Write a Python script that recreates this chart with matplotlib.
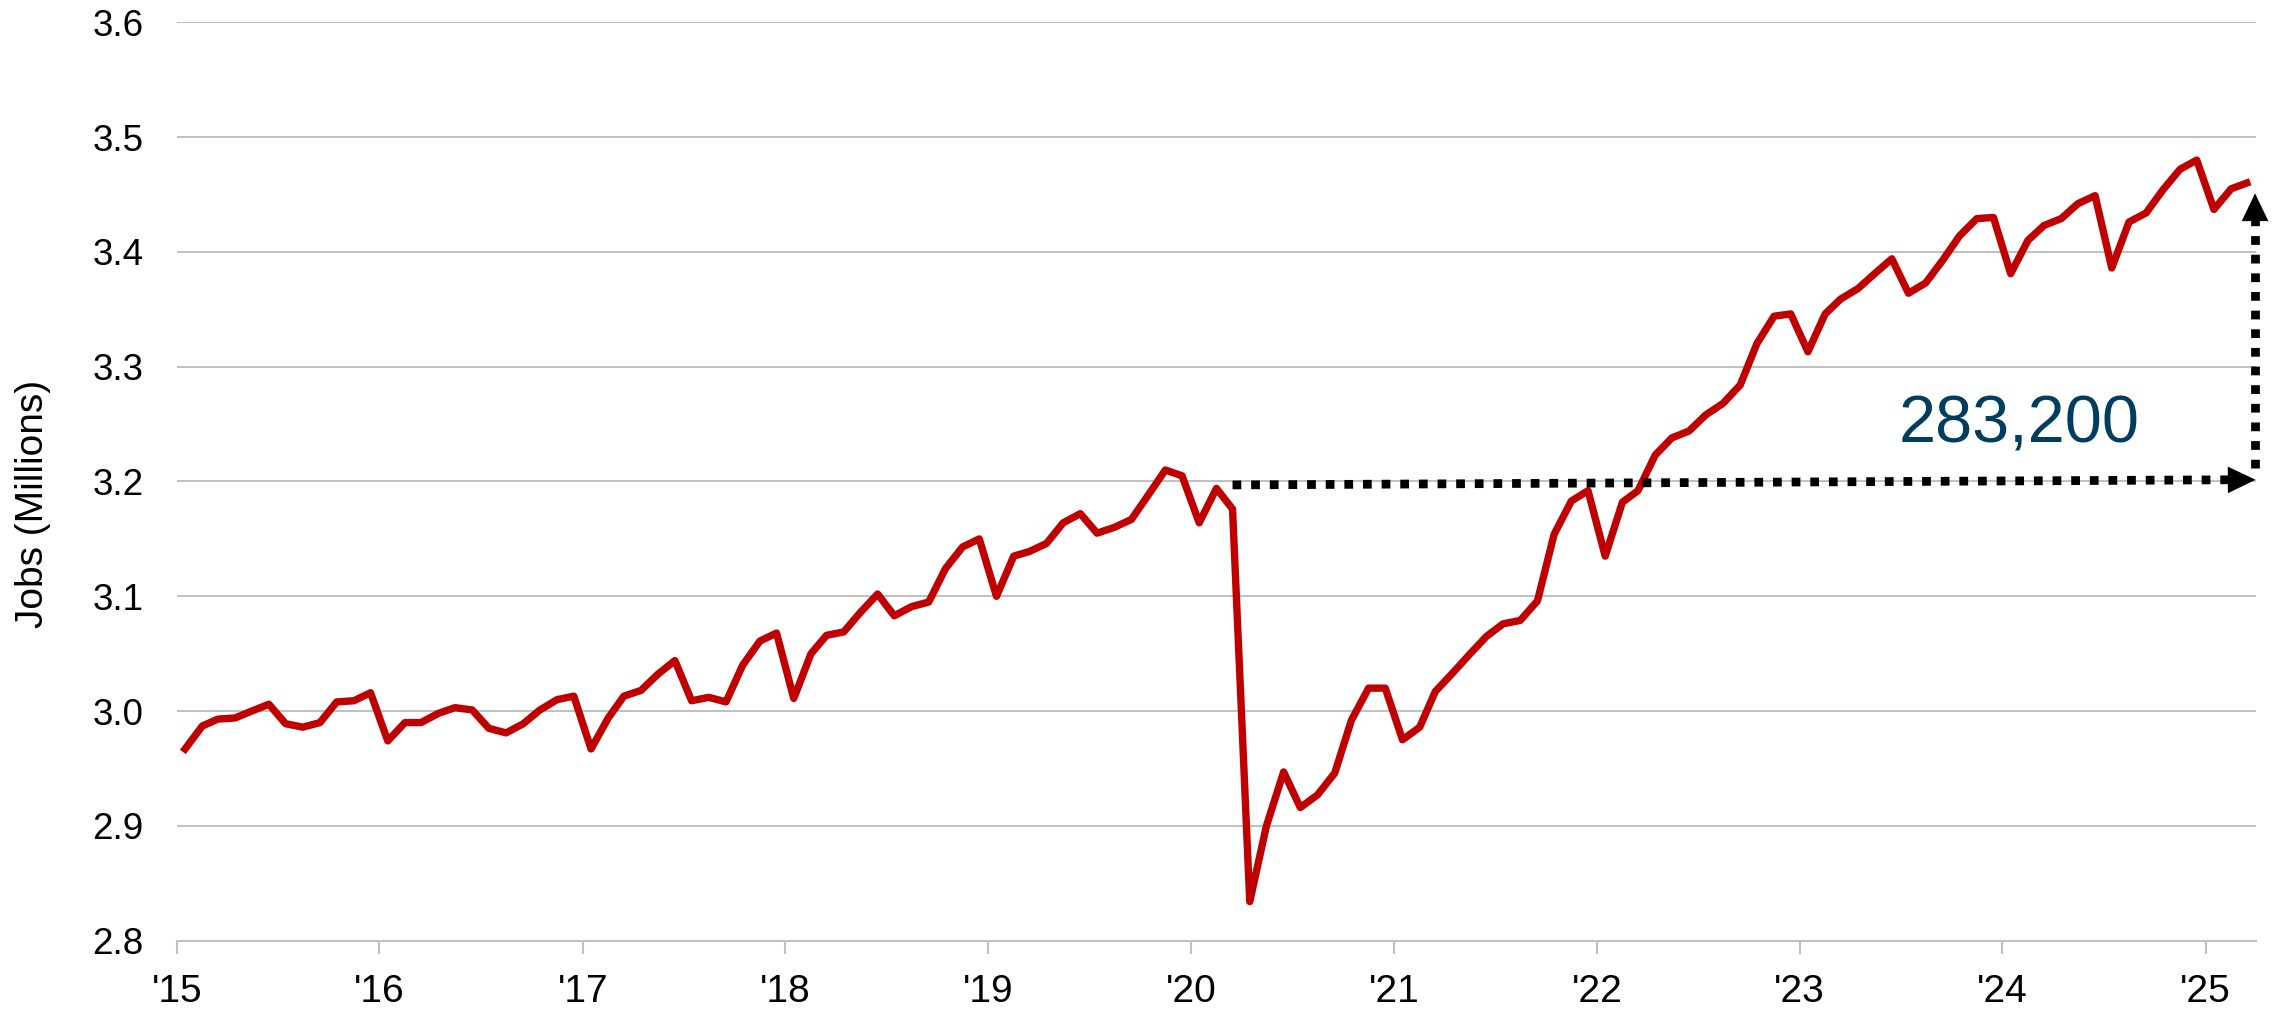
import matplotlib
matplotlib.use('Agg')
import matplotlib.pyplot as plt
import pandas as pd

plt.rcParams['font.family'] = ['Liberation Sans', 'DejaVu Sans']

# ── Datos: empleos mensuales (millones), ene-2015 a mar-2025 ─────────
jobs_2015 = [2.967, 2.987, 2.993, 2.994, 3.000, 3.006, 2.989, 2.986, 2.990, 3.008, 3.009, 3.016]
jobs_2016 = [2.974, 2.990, 2.990, 2.998, 3.003, 3.001, 2.985, 2.981, 2.989, 3.001, 3.010, 3.013]
jobs_2017 = [2.967, 2.994, 3.013, 3.018, 3.032, 3.044, 3.009, 3.012, 3.008, 3.040, 3.061, 3.068]
jobs_2018 = [3.011, 3.050, 3.066, 3.069, 3.086, 3.102, 3.083, 3.091, 3.095, 3.124, 3.143, 3.150]
jobs_2019 = [3.100, 3.135, 3.139, 3.146, 3.164, 3.172, 3.155, 3.160, 3.167, 3.188, 3.210, 3.205]
jobs_2020 = [3.164, 3.194, 3.176, 2.834, 2.900, 2.947, 2.916, 2.927, 2.946, 2.992, 3.020, 3.020]
jobs_2021 = [2.975, 2.986, 3.017, 3.033, 3.049, 3.065, 3.076, 3.079, 3.096, 3.154, 3.183, 3.192]
jobs_2022 = [3.135, 3.182, 3.192, 3.223, 3.238, 3.244, 3.258, 3.268, 3.284, 3.320, 3.344, 3.346]
jobs_2023 = [3.313, 3.346, 3.359, 3.368, 3.381, 3.394, 3.364, 3.373, 3.393, 3.414, 3.429, 3.430]
jobs_2024 = [3.381, 3.410, 3.423, 3.429, 3.442, 3.449, 3.386, 3.426, 3.434, 3.454, 3.472, 3.480]
jobs_2025 = [3.437, 3.455, 3.460]

jobs = (jobs_2015 + jobs_2016 + jobs_2017 + jobs_2018 + jobs_2019 + jobs_2020
        + jobs_2021 + jobs_2022 + jobs_2023 + jobs_2024 + jobs_2025)
months = pd.date_range('2015-01-01', periods=len(jobs), freq='MS') + pd.Timedelta(days=15)

year_ticks = pd.date_range('2015-01-01', '2025-01-01', freq='YS')
year_labels = ["'15", "'16", "'17", "'18", "'19", "'20", "'21", "'22", "'23", "'24", "'25"]
y_ticks = [2.8, 2.9, 3.0, 3.1, 3.2, 3.3, 3.4, 3.5, 3.6]

gain_label = '283,200'
gain_pos = (pd.Timestamp('2023-06-28'), 3.234)
h_start = (pd.Timestamp('2020-03-16'), 3.197)
h_end = (pd.Timestamp('2025-04-01'), 3.2015)
v_start = (pd.Timestamp('2025-03-31'), 3.212)
v_end = (pd.Timestamp('2025-03-31'), 3.451)

# ── Gráfica ──────────────────────────────────────────────────────────
fig = plt.figure(figsize=(22.8, 10.14), dpi=100)
ax = fig.add_axes([0.0775, 0.0723, 0.9118, 0.9057])

ax.plot(months, jobs, color='#C00000', lw=5.3, zorder=3)

ax.set_xlim(pd.Timestamp('2015-01-01'), pd.Timestamp('2025-04-01'))
ax.set_ylim(2.8, 3.6)
ax.set_xticks(year_ticks)
ax.set_xticklabels(year_labels)
ax.set_yticks(y_ticks)
ax.set_yticklabels([f'{v:.1f}' for v in y_ticks])

ax.grid(axis='y', color='#c0c0c0', lw=1.4)
ax.set_axisbelow(True)
for side in ['top', 'right', 'left']:
    ax.spines[side].set_visible(False)
ax.spines['bottom'].set_color('#c0c0c0')
ax.spines['bottom'].set_linewidth(1.5)

ax.tick_params(axis='x', length=9, width=1.5, color='#c0c0c0', labelsize=28, pad=15)
ax.tick_params(axis='y', length=0, labelsize=26.5, pad=24)

fig.text(33 / 2280, 1 - 504 / 1014, 'Jobs (Millions)', rotation=90,
         ha='center', va='center', fontsize=28)

# Flechas punteadas del cambio
dots = dict(color='black', lw=6.3, linestyle=(0, (1, 1.13)), dash_capstyle='butt',
            clip_on=False, zorder=4)
ax.plot([h_start[0], h_end[0] - pd.Timedelta(days=40)], [h_start[1], h_end[1]], **dots)
ax.plot([v_start[0], v_end[0]], [v_start[1], v_end[1] - 0.02], **dots)

head = dict(arrowstyle='-|>,head_length=20,head_width=9.6', mutation_scale=1,
            lw=0, fc='black', ec='none', shrinkA=0, shrinkB=0)
ax.annotate('', xy=h_end, xytext=h_start, arrowprops=head, annotation_clip=False)
ax.annotate('', xy=v_end, xytext=v_start, arrowprops=head, annotation_clip=False)

ax.text(gain_pos[0], gain_pos[1], gain_label, fontsize=48, color='#003D5F',
        ha='left', va='baseline')

plt.savefig('out.png', dpi=100)
plt.close()
